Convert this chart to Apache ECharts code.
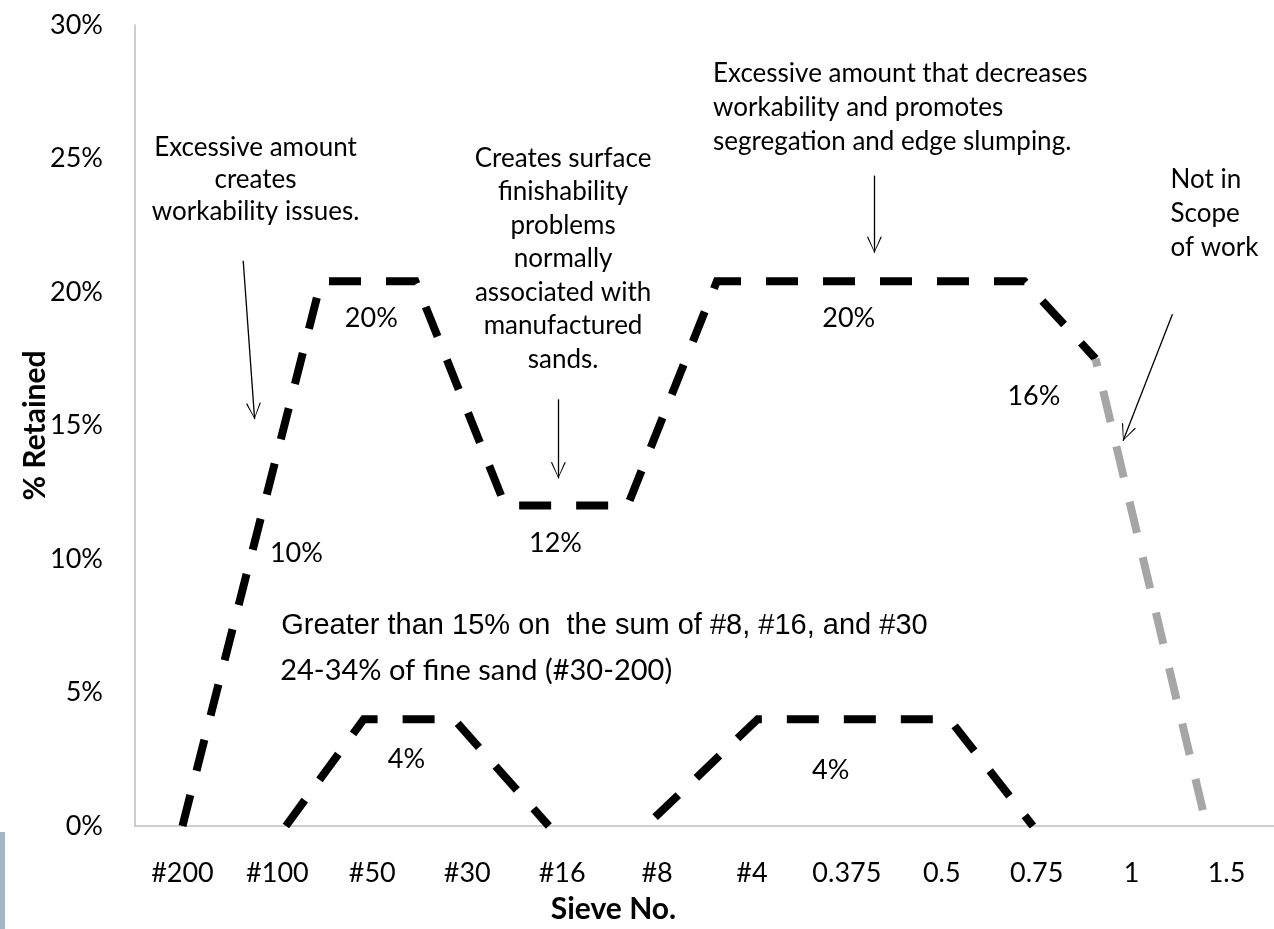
<!DOCTYPE html>
<html><head><meta charset="utf-8">
<script src="https://cdn.jsdelivr.net/npm/echarts@6/dist/echarts.min.js"></script>
<style>html,body{margin:0;padding:0;background:#fff}#c{width:1274px;height:929px}</style>
</head><body><div id="c"></div>
<script>
// ---------- data ----------
const categories = ['#200','#100','#50','#30','#16','#8','#4','0.375','0.5','0.75','1','1.5'];
const yTickMax = 30, yTickStep = 5;
// x = position along the sieve axis (0 = #200 ... 11 = 1.5), y = % retained
const upperX = [0.00, 1.46, 2.455, 3.40, 4.69, 5.63, 8.87, 9.62];
const upperY = [0.0, 20.4, 20.4, 12.0, 12.0, 20.4, 20.4, 17.5];
const outOfScopeX = [9.62, 10.79];
const outOfScopeY = [17.5, 0.0];
const lowerAX = [1.09, 1.91, 2.86, 3.86];
const lowerAY = [0.0, 4.0, 4.0, 0.0];
const lowerBX = [4.98, 6.06, 8.08, 8.96];
const lowerBY = [0.33, 4.0, 4.0, 0.0];
const valueLabels = ['10%','20%','12%','20%','16%','4%','4%'];
const notes = [
  'Excessive amount\ncreates\nworkability issues.',
  'Creates surface\nfinishability\nproblems\nnormally\nassociated with\nmanufactured\nsands.',
  'Excessive amount that decreases\nworkability and promotes\nsegregation and edge slumping.',
  'Not in\nScope\nof work',
  'Greater than 15% on  the sum of #8, #16, and #30',
  '24-34% of fine sand (#30-200)'
];

// ---------- annotation layout (data coordinates) ----------
const valueLabelPos = [[1.20,10.2],[1.99,19.0],[3.93,10.6],[7.02,19.0],[8.97,16.1],[2.36,2.5],[6.83,2.1]];
const notePos = [[0.77,24.2],[4.01,21.25],[5.59,26.9],[10.41,22.95],[1.04,7.5],[1.03,5.8]];
const arrowPos = [[0.64,21.17,0.76,15.24],[3.96,15.98,3.96,13.02],[7.29,24.36,7.29,21.47],[10.43,19.17,9.91,14.43]];

const FONT = 'Lato';
const zip = (xs, ys) => xs.map((x, i) => [x, ys[i]]);
const ARROW = 'path://M50,0L50.2,0.2L50,0.2Z M50,100 L100,200 L91,200 L50,110 L9,200 L0,200 Z';

const noteStyles = [
  {fontSize:26, lineHeight:32, align:'center', fontFamily:FONT},
  {fontSize:26, lineHeight:33.5, align:'center', fontFamily:FONT},
  {fontSize:26, lineHeight:34, align:'left', fontFamily:FONT},
  {fontSize:26, lineHeight:34, align:'left', fontFamily:FONT},
  {fontSize:29, lineHeight:34, align:'left', fontFamily:'Liberation Sans'},
  {fontSize:29, lineHeight:34, align:'left', fontFamily:FONT}
];

const markPoints = [];
valueLabels.forEach((t, i) => markPoints.push({
  coord: valueLabelPos[i], symbolSize: 0,
  label: {show:true, position:'inside', formatter:t, color:'#000', fontSize:27, fontFamily:FONT, align:'center', verticalAlign:'middle'}
}));
notes.forEach((t, i) => markPoints.push({
  coord: notePos[i], symbolSize: 0,
  label: Object.assign({show:true, position:'inside', formatter:t, color:'#000', verticalAlign:'middle'}, noteStyles[i])
}));

const dash = {type:[32,25], cap:'butt', join:'miter'};

const option = {
  animation: false,
  backgroundColor: '#fff',
  grid: {left:135, top:25, width:1141, height:809, containLabel:false},
  xAxis: [
    {type:'category', data:categories, boundaryGap:true,
     axisLine:{onZero:false, lineStyle:{color:'#bfbfbf', width:1.5}}, axisTick:{show:false},
     axisLabel:{color:'#000', fontSize:27, fontFamily:FONT, margin:34},
     name:'Sieve No.', nameLocation:'middle', nameGap:68, nameMoveOverlap:false,
     nameTextStyle:{color:'#000', fontSize:30, fontWeight:'bold', fontFamily:FONT, padding:[0,182,0,0]}},
    {type:'value', min:-0.5, max:11.5, show:false}
  ],
  yAxis: {type:'value', min:0, max:yTickMax, interval:yTickStep,
    axisLine:{show:true, onZero:false, lineStyle:{color:'#bfbfbf', width:1.5}}, axisTick:{show:false}, splitLine:{show:false},
    axisLabel:{color:'#000', fontSize:27, fontFamily:FONT, margin:32, formatter:'{value}%'},
    name:'% Retained', nameLocation:'middle', nameGap:85, nameMoveOverlap:false,
    nameTextStyle:{color:'#000', fontSize:30, fontWeight:'bold', fontFamily:FONT}},
  series: [
    {name:'upper', type:'line', xAxisIndex:1, data:zip(upperX, upperY), symbol:'none', silent:true,
     lineStyle:Object.assign({color:'#000', width:8}, dash),
     markPoint:{silent:true, animation:false, data:markPoints},
     markLine:{silent:true, animation:false, symbol:['none', ARROW], symbolSize:[15,32],
       lineStyle:{color:'#000', width:1.3, type:'solid'}, label:{show:false}, emphasis:{disabled:true},
       data: arrowPos.map(a => [{coord:[a[0],a[1]]},{coord:[a[2],a[3]]}])}},
    {name:'out of scope', type:'line', xAxisIndex:1, data:zip(outOfScopeX, outOfScopeY), symbol:'none', silent:true,
     lineStyle:Object.assign({color:'#a6a6a6', width:8, dashOffset:-33}, dash)},
    {name:'lowerA', type:'line', xAxisIndex:1, data:zip(lowerAX, lowerAY), symbol:'none', silent:true,
     lineStyle:Object.assign({color:'#000', width:8}, dash)},
    {name:'lowerB', type:'line', xAxisIndex:1, data:zip(lowerBX, lowerBY), symbol:'none', silent:true,
     lineStyle:Object.assign({color:'#000', width:8}, dash)}
  ],
  graphic: [{type:'rect', left:0, top:832, shape:{width:5, height:97}, style:{fill:'#a3b7c7'}, silent:true}]
};
const chart = echarts.init(document.getElementById('c'), null, {renderer:'canvas'});
chart.setOption(option);
</script></body></html>
